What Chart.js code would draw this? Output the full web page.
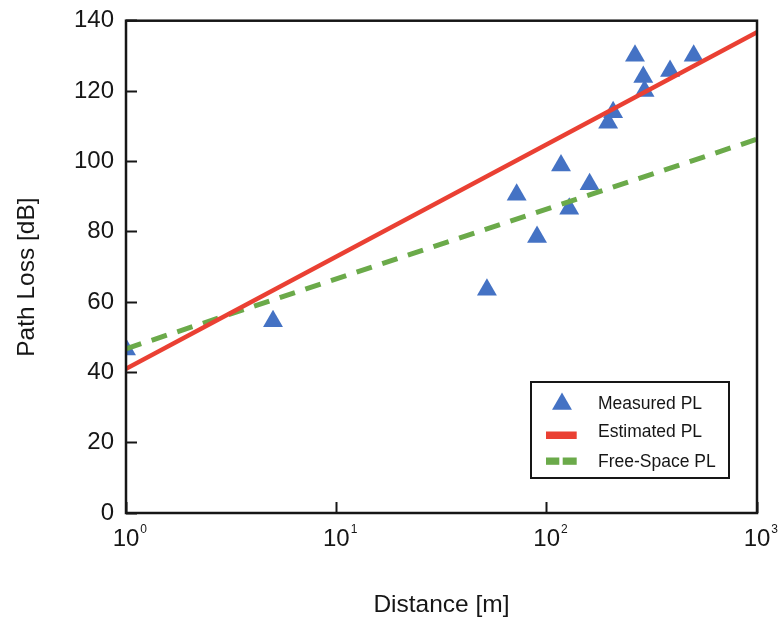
<!DOCTYPE html>
<html><head><meta charset="utf-8">
<script src="https://cdn.jsdelivr.net/npm/chart.js@4.4.0/dist/chart.umd.min.js"></script>
<style>html,body{margin:0;padding:0;background:#fff}#wrap{width:781px;height:625px;position:relative}</style>
</head><body><div id="wrap"><canvas id="c" width="781" height="625"></canvas></div>
<script>
// ---- data ----
const distances = [1, 5, 52, 72, 90, 117, 128, 160, 196, 207, 263, 288, 292, 386, 500];
const measuredPL = [46.5, 54.5, 63.5, 90.5, 78.5, 98.8, 86.5, 93.5, 111, 114, 130, 124, 120, 125.7, 130];
const lineDistances = [1, 1000];
const estimatedPL = [41, 136.7];
const freeSpacePL = [46.7, 106.3];
const yTicks = [0, 20, 40, 60, 80, 100, 120, 140];
const xTickExponents = [0, 1, 2, 3];
const seriesNames = ['Measured PL', 'Estimated PL', 'Free-Space PL'];
const axisTitles = { x: 'Distance [m]', y: 'Path Loss [dB]' };

const FONT = "'Liberation Sans', Arial, Helvetica, sans-serif";
const BLUE = '#4472C4', RED = '#EA4033', GREEN = '#6BAA4A', INK = '#161616';

const toPts = (xs, ys) => xs.map((x, i) => ({ x: x, y: ys[i] }));

const decorPlugin = {
  id: 'decor',
  afterDatasetsDraw(chart) {
    const ctx = chart.ctx, ca = chart.chartArea;
    ctx.save();
    ctx.strokeStyle = INK;
    ctx.lineWidth = 2.5;
    ctx.strokeRect(ca.left, ca.top, ca.right - ca.left, ca.bottom - ca.top);
    ctx.restore();
  },
  afterDraw(chart) {
    const ctx = chart.ctx, ca = chart.chartArea, xs = chart.scales.x;
    ctx.save();
    // superscript exponents for x tick labels
    ctx.font = '24px ' + FONT;
    const w10 = ctx.measureText('10').width;
    ctx.font = '12px ' + FONT;
    ctx.fillStyle = INK;
    ctx.textAlign = 'left';
    ctx.textBaseline = 'alphabetic';
    xTickExponents.forEach(e => {
      const px = xs.getPixelForValue(Math.pow(10, e));
      ctx.fillText(String(e), px + w10 / 2 + 1, xs.top + 20);
    });
    // legend
    const bx = ca.right - 226, by = ca.bottom - 131, bw = 198, bh = 96;
    ctx.fillStyle = '#fff';
    ctx.fillRect(bx, by, bw, bh);
    ctx.strokeStyle = INK;
    ctx.lineWidth = 2;
    ctx.strokeRect(bx, by, bw, bh);
    // triangle
    const tx = bx + 31, ty = by + 22, r = 11.5;
    ctx.fillStyle = BLUE;
    ctx.beginPath();
    ctx.moveTo(tx, ty - r);
    ctx.lineTo(tx + r * Math.sin(2 * Math.PI / 3), ty + r / 2);
    ctx.lineTo(tx - r * Math.sin(2 * Math.PI / 3), ty + r / 2);
    ctx.closePath();
    ctx.fill();
    // red line
    ctx.fillStyle = RED;
    ctx.fillRect(bx + 15, by + 49.5, 30.7, 7.5);
    // green dashes
    ctx.fillStyle = GREEN;
    ctx.fillRect(bx + 15, by + 75.5, 13.3, 7.3);
    ctx.fillRect(bx + 31.7, by + 75.5, 14, 7.3);
    // texts
    ctx.fillStyle = INK;
    ctx.font = '17.5px ' + FONT;
    const baselines = [27.3, 54.7, 84.7];
    seriesNames.forEach((n, i) => ctx.fillText(n, bx + 67, by + baselines[i]));
    ctx.restore();
  }
};

new Chart(document.getElementById('c'), {
  type: 'scatter',
  data: {
    datasets: [
      {
        label: seriesNames[1], data: toPts(lineDistances, estimatedPL), showLine: true,
        borderColor: RED, borderWidth: 4.5, pointRadius: 0, order: 0
      },
      {
        label: seriesNames[2], data: toPts(lineDistances, freeSpacePL), showLine: true,
        borderColor: GREEN, borderWidth: 5, borderDash: [16, 11], pointRadius: 0, order: 1
      },
      {
        label: seriesNames[0], data: toPts(distances, measuredPL), pointStyle: 'triangle',
        pointRadius: 11.5, backgroundColor: BLUE, borderWidth: 0, order: 2, clip: 0
      }
    ]
  },
  options: {
    responsive: false,
    animation: false,
    devicePixelRatio: 1,
    layout: { padding: { top: 20.7, right: 24, left: 0, bottom: 0 } },
    plugins: { legend: { display: false }, tooltip: { enabled: false } },
    scales: {
      x: {
        type: 'logarithmic', min: 1, max: 1000,
        afterBuildTicks: s => { s.ticks = xTickExponents.map(e => ({ value: Math.pow(10, e) })); },
        afterFit: s => { s.height = 112; s.paddingLeft = 0; s.paddingRight = 0; },
        ticks: {
          callback: () => '10', autoSkip: false, maxRotation: 0,
          font: { family: FONT, size: 24 }, color: INK, padding: 22.6
        },
        grid: { drawOnChartArea: false, drawTicks: true, tickLength: -11, tickWidth: 2, tickColor: INK },
        border: { display: false },
        title: {
          display: true, text: axisTitles.x, color: INK,
          font: { family: FONT, size: 24.5 }, padding: { top: 0, bottom: 5.3 }
        }
      },
      y: {
        type: 'linear', min: 0, max: 140,
        afterBuildTicks: s => { s.ticks = yTicks.map(v => ({ value: v })); },
        afterFit: s => { s.width = 126; s.paddingTop = 0; s.paddingBottom = 0; },
        ticks: { font: { family: FONT, size: 24 }, color: INK, padding: 23 },
        grid: { drawOnChartArea: false, drawTicks: true, tickLength: -11, tickWidth: 2, tickColor: INK },
        border: { display: false },
        title: {
          display: true, text: axisTitles.y + '\u00a0\u00a0\u00a0', color: INK,
          font: { family: FONT, size: 24.5 }, padding: { top: 12.8, bottom: 0 }
        }
      }
    }
  },
  plugins: [decorPlugin]
});
</script>
</body></html>
